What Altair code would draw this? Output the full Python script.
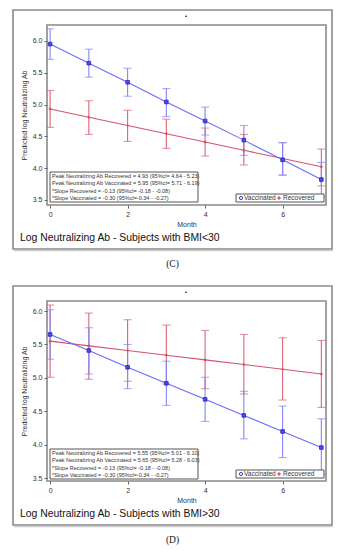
import altair as alt
import pandas as pd

months = [0, 1, 2, 3, 4, 5, 6, 7]

# Panel C (BMI<30)
c_vac_mean = [5.95, 5.65, 5.35, 5.04, 4.74, 4.44, 4.13, 3.82]
c_vac_lo = [5.71, 5.43, 5.13, 4.81, 4.52, 4.20, 3.89, 3.55]
c_vac_hi = [6.19, 5.87, 5.57, 5.25, 4.96, 4.67, 4.40, 4.09]
c_rec_mean = [4.93, 4.80, 4.67, 4.54, 4.41, 4.28, 4.15, 4.02]
c_rec_lo = [4.64, 4.53, 4.42, 4.31, 4.19, 4.05, 3.89, 3.72]
c_rec_hi = [5.22, 5.06, 4.91, 4.77, 4.63, 4.53, 4.40, 4.30]
c_ydomain = [3.42, 6.25]
c_notes = [
    "Peak Neutralizing Ab Recovered = 4.93 (95%cl= 4.64 - 5.23)",
    "Peak Neutralizing Ab Vaccinated = 5.95 (95%cl= 5.71 - 6.19)",
    "*Slope Recovered =  -0.13 (95%cl= -0.18 -  -0.08)",
    "*Slope Vaccinated = -0.30 (95%cl=-0.34 -  -0.27)",
]
c_title = "Log Neutralizing Ab - Subjects with BMI<30"
c_caption = "(C)"

# Panel D (BMI>30)
d_vac_mean = [5.65, 5.41, 5.16, 4.92, 4.68, 4.44, 4.20, 3.96]
d_vac_lo = [5.28, 5.06, 4.84, 4.59, 4.35, 4.09, 3.81, 3.56]
d_vac_hi = [6.02, 5.75, 5.50, 5.25, 5.01, 4.80, 4.58, 4.39]
d_rec_mean = [5.55, 5.48, 5.41, 5.34, 5.27, 5.20, 5.13, 5.06]
d_rec_lo = [5.01, 4.98, 4.95, 4.91, 4.84, 4.76, 4.67, 4.56]
d_rec_hi = [6.09, 5.97, 5.87, 5.79, 5.71, 5.65, 5.60, 5.56]
d_ydomain = [3.46, 6.15]
d_notes = [
    "Peak Neutralizing Ab Recovered = 5.55 (95%cl= 5.01 - 6.10)",
    "Peak Neutralizing Ab Vaccinated = 5.65 (95%cl= 5.28 - 6.03)",
    "*Slope Recovered = -0.13 (95%cl= -0.18 -  -0.08)",
    "*Slope Vaccinated = -0.30 (95%cl=-0.34 -  -0.27)",
]
d_title = "Log Neutralizing Ab - Subjects with BMI>30"
d_caption = "(D)"

x_ticks = [0, 2, 4, 6]
y_ticks = [3.5, 4.0, 4.5, 5.0, 5.5, 6.0]
x_title = "Month"
y_title = "Predicted log Neutralizing Ab"
legend_labels = ["Vaccinated", "Recovered"]

BLUE_LINE = "#6a6aff"
BLUE_BAR = "#8484ff"
BLUE_MARK = "#4a4af0"
BLUE_EDGE = "#2525b5"
RED_LINE = "#d4546a"
RED_BAR = "#dc6478"
FRAME = "#8a8a8a"
TEXT = "#333333"
SANS = "Liberation Sans"

W, H = 279, 180


def one():
    return pd.DataFrame({"k": [0]})


def panel(vm, vlo, vhi, rm, rlo, rhi, ydom, notes, title, caption, note_y):
    xs = alt.Scale(domain=[-0.08, 7.12], nice=False, zero=False)
    ys = alt.Scale(domain=ydom, nice=False, zero=False)
    X = lambda f: alt.X(f, scale=xs, title=x_title,
                        axis=alt.Axis(values=x_ticks, format="d"))
    Y = lambda f: alt.Y(f, scale=ys, title=y_title,
                        axis=alt.Axis(values=y_ticks, format=".1f"))

    vac = pd.DataFrame({"month": months, "mean": vm, "lo": vlo, "hi": vhi})
    rec = pd.DataFrame({"month": months, "mean": rm, "lo": rlo, "hi": rhi})

    layers = []
    for df, line_c, bar_c in [(rec, RED_LINE, RED_BAR), (vac, BLUE_LINE, BLUE_BAR)]:
        b = alt.Chart(df)
        layers.append(b.mark_rule(color=bar_c, strokeWidth=1.1).encode(
            x=X("month:Q"), y=Y("lo:Q"), y2="hi:Q"))
        for f in ["lo:Q", "hi:Q"]:
            layers.append(b.mark_tick(color=bar_c, orient="horizontal", size=8,
                                      thickness=1.1).encode(x=X("month:Q"), y=Y(f)))
        layers.append(b.mark_line(color=line_c, strokeWidth=1.1).encode(
            x=X("month:Q"), y=Y("mean:Q")))
    layers.append(alt.Chart(rec).mark_point(shape="cross", filled=True, color=RED_LINE,
                                            size=9, opacity=1).encode(
        x=X("month:Q"), y=Y("mean:Q")))
    layers.append(alt.Chart(vac).mark_point(shape="square", filled=True, fill=BLUE_MARK,
                                            stroke=BLUE_EDGE, strokeWidth=0.8,
                                            size=13, opacity=1).encode(
        x=X("month:Q"), y=Y("mean:Q")))

    # annotation box
    layers.append(alt.Chart(one()).mark_rect(fill="white", stroke="#555", strokeWidth=1).encode(
        x=alt.value(3), x2=alt.value(151), y=alt.value(note_y - 3), y2=alt.value(note_y + 27)))
    for i, t in enumerate(notes):
        layers.append(alt.Chart(one()).mark_text(text=t, align="left", baseline="middle",
                                                 font=SANS, fontSize=5.5, color=TEXT).encode(
            x=alt.value(5), y=alt.value(note_y + 0.5 + i * 7.5)))

    # legend box (drawn inside plot, bottom-right)
    layers.append(alt.Chart(one()).mark_rect(fill="white", stroke="#555", strokeWidth=1).encode(
        x=alt.value(189), x2=alt.value(277), y=alt.value(169), y2=alt.value(177)))
    layers.append(alt.Chart(one()).mark_point(shape="circle", filled=False, color=BLUE_EDGE,
                                              size=10, strokeWidth=0.9, opacity=1).encode(
        x=alt.value(194), y=alt.value(173)))
    layers.append(alt.Chart(one()).mark_text(text=legend_labels[0], align="left",
                                             baseline="middle", font=SANS, fontSize=6.5,
                                             color=TEXT).encode(
        x=alt.value(197), y=alt.value(173.3)))
    layers.append(alt.Chart(one()).mark_point(shape="cross", filled=True, color=RED_LINE,
                                              size=12, opacity=1).encode(
        x=alt.value(232), y=alt.value(173)))
    layers.append(alt.Chart(one()).mark_text(text=legend_labels[1], align="left",
                                             baseline="middle", font=SANS, fontSize=6.5,
                                             color=TEXT).encode(
        x=alt.value(236), y=alt.value(173.3)))

    # outer frame, tiny top title, panel title and caption
    layers.append(alt.Chart(one()).mark_rect(filled=False, stroke=FRAME, strokeWidth=1.6).encode(
        x=alt.value(-34), x2=alt.value(285), y=alt.value(-15), y2=alt.value(224)))
    layers.append(alt.Chart(one()).mark_rule(color="#cfcfcf", strokeWidth=1.2).encode(
        x=alt.value(-33), x2=alt.value(286), y=alt.value(225.6)))
    layers.append(alt.Chart(one()).mark_text(text=".", align="center", baseline="middle",
                                             font=SANS, fontSize=9, fontWeight="bold",
                                             color="#000").encode(
        x=alt.value(139), y=alt.value(-11)))
    layers.append(alt.Chart(one()).mark_text(text=title, align="left", baseline="middle",
                                             font=SANS, fontSize=10.4, color="#111").encode(
        x=alt.value(-27), y=alt.value(213)))
    layers.append(alt.Chart(one()).mark_text(text=caption, align="center", baseline="middle",
                                             font="Liberation Serif", fontSize=9.5,
                                             color="#111").encode(
        x=alt.value(125.5), y=alt.value(239)))

    return alt.layer(*layers).properties(width=W, height=H)


pc = panel(c_vac_mean, c_vac_lo, c_vac_hi, c_rec_mean, c_rec_lo, c_rec_hi,
           c_ydomain, c_notes, c_title, c_caption, 150)
pd_ = panel(d_vac_mean, d_vac_lo, d_vac_hi, d_rec_mean, d_rec_lo, d_rec_hi,
            d_ydomain, d_notes, d_title, d_caption, 151)

chart = alt.vconcat(pc, pd_, spacing=96, bounds="flush").properties(
    padding={"left": 3, "top": 0, "right": 0, "bottom": 0},
    background="white",
).configure_view(
    stroke=FRAME, strokeWidth=1.6
).configure_axis(
    domain=False, grid=False, tickColor="#666", tickSize=3, tickWidth=1,
    labelFont=SANS, labelFontSize=7, labelColor=TEXT, labelPadding=2,
    titleFont=SANS, titleFontSize=7, titleColor=TEXT, titleFontWeight="normal",
).configure_axisX(titlePadding=3).configure_axisY(titlePadding=5)

chart.save("out.html", embed_options={"renderer": "svg", "actions": False})
